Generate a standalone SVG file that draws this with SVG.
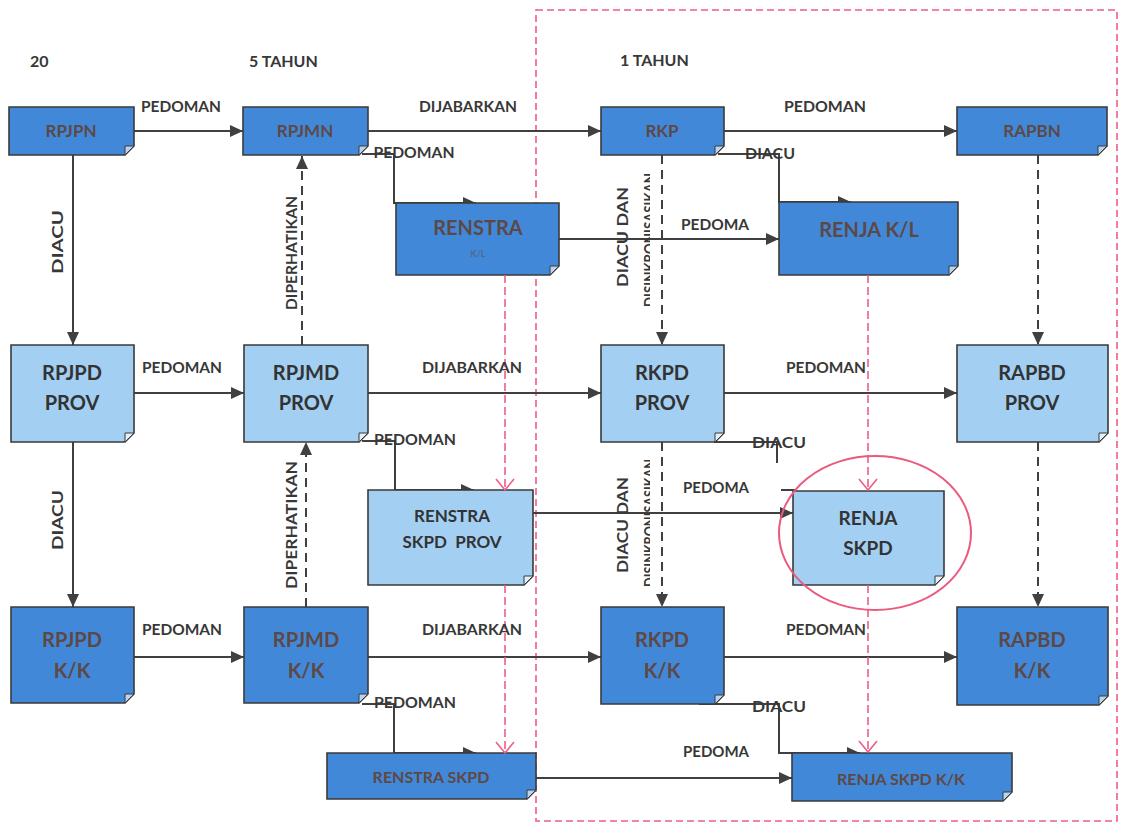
<svg xmlns="http://www.w3.org/2000/svg" width="1121" height="825" viewBox="0 0 1121 825">
<style>
.bg{fill:#ffffff}
.dk{fill:#4288d8;stroke:#3a3a3a;stroke-width:1.6}
.lt{fill:#a3cff3;stroke:#3a3a3a;stroke-width:1.6}
.fd{fill:#b9d3ee;stroke:#3a3a3a;stroke-width:1}
.fl{fill:#e3eef8;stroke:#3a3a3a;stroke-width:1}
.c{fill:none;stroke:#404040;stroke-width:2}
.d{fill:none;stroke:#404040;stroke-width:2;stroke-dasharray:9 6}
.p{fill:none;stroke:#ef5d86;stroke-width:1.6;stroke-dasharray:8 4}
.t{font-family:Lato,"Open Sans",sans-serif;font-weight:bold;text-anchor:middle}
.td{fill:#5e4845}
.tl{fill:#333333}
.lbl{font-family:Lato,"Open Sans",sans-serif;font-weight:bold;font-size:15px;fill:#383838;text-anchor:middle}
.hd{font-family:Lato,"Open Sans",sans-serif;font-weight:bold;font-size:16px;fill:#383838}
</style>
<defs>
<marker id="ar" markerUnits="userSpaceOnUse" markerWidth="14" markerHeight="12" refX="13" refY="6" orient="auto">
<path d="M0,0 L13,6 L0,12 Z" fill="#404040"/>
</marker>
<marker id="pv" markerUnits="userSpaceOnUse" markerWidth="14" markerHeight="22" refX="12" refY="10" orient="auto">
<path d="M1,1 L12,10 L1,19" fill="none" stroke="#ef5d86" stroke-width="1.6" stroke-dasharray="none"/>
</marker>
<clipPath id="halfclip"><rect x="600" y="0" width="50" height="825"/></clipPath>
</defs>
<rect class="bg" x="0" y="0" width="1121" height="825"/>
<rect id="frame-1-tahun" x="536" y="10" width="581" height="811" fill="none" stroke="#ef5d86" stroke-width="1.6" stroke-dasharray="7 4"/>
<g id="headers">
<text class="hd" x="30" y="67">20</text>
<text class="hd" x="249" y="67">5 TAHUN</text>
<text class="hd" x="620" y="66">1 TAHUN</text>
</g>
<g id="connectors">
<path class="c" d="M134,131 H243" marker-end="url(#ar)"/>
<path class="c" d="M368,131 H601" marker-end="url(#ar)"/>
<path class="c" d="M724,131 H957" marker-end="url(#ar)"/>
<path class="c" d="M362,154 H394 V203 H476" marker-end="url(#ar)"/>
<path class="c" d="M718,154 H779 V202 H851" marker-end="url(#ar)"/>
<path class="c" d="M559,239 H779" marker-end="url(#ar)"/>
<path class="c" d="M73,155 V345" marker-end="url(#ar)"/>
<path class="c" d="M134,393 H244" marker-end="url(#ar)"/>
<path class="c" d="M368,393 H601" marker-end="url(#ar)"/>
<path class="c" d="M724,393 H957" marker-end="url(#ar)"/>
<path class="c" d="M362,441 H395 V490 H474" marker-end="url(#ar)"/>
<path class="c" d="M714,442 H777 V463"/>
<path class="c" d="M781,490 H796"/>
<path class="c" d="M533,513 H793" marker-end="url(#ar)"/>
<path class="c" d="M73,442 V607" marker-end="url(#ar)"/>
<path class="c" d="M134,657 H244" marker-end="url(#ar)"/>
<path class="c" d="M368,657 H601" marker-end="url(#ar)"/>
<path class="c" d="M724,657 H957" marker-end="url(#ar)"/>
<path class="c" d="M362,704 H394 V753 H476" marker-end="url(#ar)"/>
<path class="c" d="M699,704 H779 V753 H860" marker-end="url(#ar)"/>
<path class="c" d="M536,778 H792" marker-end="url(#ar)"/>
<path class="d" d="M302,345 V156" marker-end="url(#ar)"/>
<path class="d" d="M306,607 V442" marker-end="url(#ar)"/>
<path class="d" d="M662,155 V345" marker-end="url(#ar)"/>
<path class="d" d="M662,442 V607" marker-end="url(#ar)"/>
<path class="d" d="M1038,155 V345" marker-end="url(#ar)"/>
<path class="d" d="M1038,442 V607" marker-end="url(#ar)"/>
</g>
<g id="n-rpjpn"><path class="dk" d="M9,107 H134 V146 L125,155 H9 Z"/><path class="fd" d="M134,146 L125,155 L125,146 Z"/><text class="t td" x="71" y="137" font-size="17">RPJPN</text></g>
<g id="n-rpjmn"><path class="dk" d="M243,107 H368 V146 L359,155 H243 Z"/><path class="fd" d="M368,146 L359,155 L359,146 Z"/><text class="t td" x="305" y="137" font-size="17">RPJMN</text></g>
<g id="n-rkp"><path class="dk" d="M601,107 H724 V146 L715,155 H601 Z"/><path class="fd" d="M724,146 L715,155 L715,146 Z"/><text class="t td" x="662" y="137" font-size="17">RKP</text></g>
<g id="n-rapbn"><path class="dk" d="M957,107 H1107 V146 L1098,155 H957 Z"/><path class="fd" d="M1107,146 L1098,155 L1098,146 Z"/><text class="t td" x="1032" y="137" font-size="17">RAPBN</text></g>
<g id="n-renstra"><path class="dk" d="M396,203 H559 V266 L550,275 H396 Z"/><path class="fd" d="M559,266 L550,275 L550,266 Z"/><text class="t td" x="478" y="235" font-size="20">RENSTRA</text><text class="t td" x="478" y="257" font-size="9" opacity="0.5">K/L</text></g>
<g id="n-renja-kl"><path class="dk" d="M779,202 H958 V266 L949,275 H779 Z"/><path class="fd" d="M958,266 L949,275 L949,266 Z"/><text class="t td" x="869" y="237" font-size="20">RENJA K/L</text></g>
<g id="n-rpjpd-prov"><path class="lt" d="M11,345 H134 V433 L125,442 H11 Z"/><path class="fl" d="M134,433 L125,442 L125,433 Z"/><text class="t tl" x="72" y="380" font-size="20">RPJPD</text><text class="t tl" x="72" y="410" font-size="20">PROV</text></g>
<g id="n-rpjmd-prov"><path class="lt" d="M244,345 H368 V433 L359,442 H244 Z"/><path class="fl" d="M368,433 L359,442 L359,433 Z"/><text class="t tl" x="306" y="380" font-size="20">RPJMD</text><text class="t tl" x="306" y="410" font-size="20">PROV</text></g>
<g id="n-rkpd-prov"><path class="lt" d="M601,345 H724 V433 L715,442 H601 Z"/><path class="fl" d="M724,433 L715,442 L715,433 Z"/><text class="t tl" x="662" y="380" font-size="20">RKPD</text><text class="t tl" x="662" y="410" font-size="20">PROV</text></g>
<g id="n-rapbd-prov"><path class="lt" d="M957,345 H1108 V433 L1099,442 H957 Z"/><path class="fl" d="M1108,433 L1099,442 L1099,433 Z"/><text class="t tl" x="1032" y="380" font-size="20">RAPBD</text><text class="t tl" x="1032" y="410" font-size="20">PROV</text></g>
<g id="n-renstra-skpd-prov"><path class="lt" d="M368,490 H533 V576 L524,585 H368 Z"/><path class="fl" d="M533,576 L524,585 L524,576 Z"/><text class="t tl" x="452" y="522" font-size="17">RENSTRA</text><text class="t tl" x="452" y="548" font-size="17" xml:space="preserve">SKPD  PROV</text></g>
<g id="n-renja-skpd"><path class="lt" d="M793,491 H944 V576 L935,585 H793 Z"/><path class="fl" d="M944,576 L935,585 L935,576 Z"/><text class="t tl" x="868" y="525" font-size="19">RENJA</text><text class="t tl" x="868" y="555" font-size="19">SKPD</text></g>
<g id="n-rpjpd-kk"><path class="dk" d="M11,607 H134 V694 L125,703 H11 Z"/><path class="fd" d="M134,694 L125,703 L125,694 Z"/><text class="t td" x="72" y="647" font-size="20">RPJPD</text><text class="t td" x="72" y="678" font-size="20">K/K</text></g>
<g id="n-rpjmd-kk"><path class="dk" d="M244,607 H368 V694 L359,703 H244 Z"/><path class="fd" d="M368,694 L359,703 L359,694 Z"/><text class="t td" x="306" y="647" font-size="20">RPJMD</text><text class="t td" x="306" y="678" font-size="20">K/K</text></g>
<g id="n-rkpd-kk"><path class="dk" d="M601,607 H724 V695 L715,704 H601 Z"/><path class="fd" d="M724,695 L715,704 L715,695 Z"/><text class="t td" x="662" y="647" font-size="20">RKPD</text><text class="t td" x="662" y="678" font-size="20">K/K</text></g>
<g id="n-rapbd-kk"><path class="dk" d="M957,607 H1108 V696 L1099,705 H957 Z"/><path class="fd" d="M1108,696 L1099,705 L1099,696 Z"/><text class="t td" x="1032" y="647" font-size="20">RAPBD</text><text class="t td" x="1032" y="678" font-size="20">K/K</text></g>
<g id="n-renstra-skpd"><path class="dk" d="M327,753 H536 V790 L527,799 H327 Z"/><path class="fd" d="M536,790 L527,799 L527,790 Z"/><text class="t td" x="431" y="783" font-size="16">RENSTRA SKPD</text></g>
<g id="n-renja-skpd-kk"><path class="dk" d="M792,753 H1012 V792 L1003,801 H792 Z"/><path class="fd" d="M1012,792 L1003,801 L1003,792 Z"/><text class="t td" x="901" y="785" font-size="16">RENJA SKPD K/K</text></g>
<g id="pink-connectors">
<path class="p" d="M505,275 V490" marker-end="url(#pv)"/>
<path class="p" d="M505,585 V753" marker-end="url(#pv)"/>
<path class="p" d="M868,275 V490" marker-end="url(#pv)"/>
<path class="p" d="M868,585 V752" marker-end="url(#pv)"/>
</g>
<ellipse id="highlight" cx="875" cy="533" rx="96" ry="77" fill="none" stroke="#ea5a7e" stroke-width="2"/>
<g id="labels">
<text class="lbl" x="181" y="112" textLength="80" lengthAdjust="spacingAndGlyphs">PEDOMAN</text>
<text class="lbl" x="468" y="112" textLength="98" lengthAdjust="spacingAndGlyphs">DIJABARKAN</text>
<text class="lbl" x="825" y="112" textLength="82" lengthAdjust="spacingAndGlyphs">PEDOMAN</text>
<text class="lbl" x="414" y="158" textLength="81" lengthAdjust="spacingAndGlyphs">PEDOMAN</text>
<text class="lbl" x="770" y="159" textLength="50" lengthAdjust="spacingAndGlyphs">DIACU</text>
<text class="lbl" x="715" y="230" textLength="68" lengthAdjust="spacingAndGlyphs">PEDOMA</text>
<text class="lbl" x="182" y="373" textLength="80" lengthAdjust="spacingAndGlyphs">PEDOMAN</text>
<text class="lbl" x="472" y="373" textLength="100" lengthAdjust="spacingAndGlyphs">DIJABARKAN</text>
<text class="lbl" x="826" y="373" textLength="80" lengthAdjust="spacingAndGlyphs">PEDOMAN</text>
<text class="lbl" x="415" y="445" textLength="82" lengthAdjust="spacingAndGlyphs">PEDOMAN</text>
<text class="lbl" x="779" y="448" textLength="54" lengthAdjust="spacingAndGlyphs">DIACU</text>
<text class="lbl" x="716" y="493" textLength="66" lengthAdjust="spacingAndGlyphs">PEDOMA</text>
<text class="lbl" x="182" y="635" textLength="80" lengthAdjust="spacingAndGlyphs">PEDOMAN</text>
<text class="lbl" x="472" y="635" textLength="100" lengthAdjust="spacingAndGlyphs">DIJABARKAN</text>
<text class="lbl" x="826" y="635" textLength="80" lengthAdjust="spacingAndGlyphs">PEDOMAN</text>
<text class="lbl" x="415" y="708" textLength="82" lengthAdjust="spacingAndGlyphs">PEDOMAN</text>
<text class="lbl" x="779" y="712" textLength="54" lengthAdjust="spacingAndGlyphs">DIACU</text>
<text class="lbl" x="716" y="757" textLength="66" lengthAdjust="spacingAndGlyphs">PEDOMA</text>
<text class="lbl" transform="translate(63,242) rotate(-90)" textLength="64" lengthAdjust="spacingAndGlyphs">DIACU</text>
<text class="lbl" transform="translate(63,520) rotate(-90)" textLength="60" lengthAdjust="spacingAndGlyphs">DIACU</text>
<text class="lbl" transform="translate(297,253) rotate(-90)" textLength="114" lengthAdjust="spacingAndGlyphs">DIPERHATIKAN</text>
<text class="lbl" transform="translate(297,525) rotate(-90)" textLength="128" lengthAdjust="spacingAndGlyphs">DIPERHATIKAN</text>
<text class="lbl" transform="translate(628,237) rotate(-90)" textLength="100" lengthAdjust="spacingAndGlyphs">DIACU DAN</text>
<text class="lbl" transform="translate(628,525) rotate(-90)" textLength="96" lengthAdjust="spacingAndGlyphs">DIACU DAN</text>
<g clip-path="url(#halfclip)">
<text class="lbl" transform="translate(655,240) rotate(-90)" textLength="134" lengthAdjust="spacingAndGlyphs">DISINKRONISASIKAN</text>
<text class="lbl" transform="translate(655,523) rotate(-90)" textLength="128" lengthAdjust="spacingAndGlyphs">DISINKRONISASIKAN</text>
</g>
</g>
</svg>
